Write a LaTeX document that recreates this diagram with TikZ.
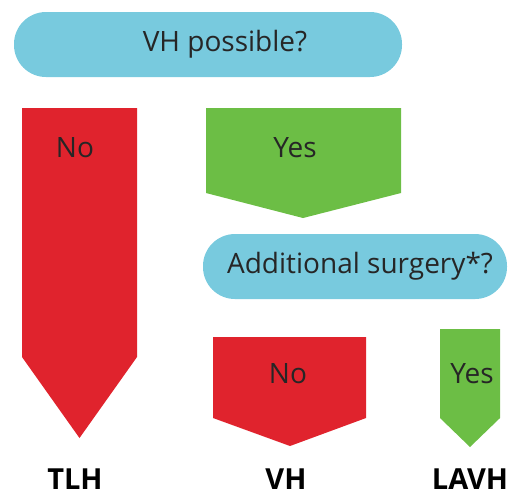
\documentclass[tikz,border=0pt]{standalone}
\usepackage{fontspec}
\setmainfont{Open Sans}
\usepackage{tikz}
\usetikzlibrary{calc}
\definecolor{pillblue}{RGB}{120,202,222}
\definecolor{noRed}{RGB}{224,35,45}
\definecolor{yesGreen}{RGB}{108,190,69}
% pointer shape: colour, left, right, top, shoulder, tip x, tip y
\newcommand{\pointer}[7]{\fill[#1] (#2,#4) -- (#3,#4) -- (#3,#5) -- (#6,#7) -- (#2,#5) -- cycle;}
\tikzset{
    pill/.style={fill=pillblue, rounded corners=16pt, minimum height=32.5pt, inner sep=0pt},
    answer/.style={font=\fontsize{14}{16}\selectfont, text=black!85},
    result/.style={font=\fontsize{14.5}{16}\selectfont\bfseries, text=black}
}

\begin{document}
\begin{tikzpicture}[x=0.5pt, y=-0.5pt]
    \useasboundingbox (0,0) rectangle (513,495);

    % Draw questions
    \node[pill, minimum width=194pt] (q1) at (208,44.5) {};
    \node[answer] (q1text) at (225,44.5) {VH possible?};
    \node[pill, minimum width=152pt] (q2) at (355,266.5) {};
    \node[answer] (q2text) at (360,266.5) {Additional surgery*?};

    % Draw pointers
    \pointer{noRed}{22}{137}{108}{357}{79.5}{438}
    \pointer{yesGreen}{206}{401}{108}{193}{303}{218}
    \pointer{noRed}{213}{366}{337}{418}{290}{446}
    \pointer{yesGreen}{440}{500}{329}{418}{470}{447}

    \node[answer] (no1) at (75,148) {No};
    \node[answer] (yes1) at (295,148) {Yes};
    \node[answer] (no2) at (288,374) {No};
    \node[answer] (yes2) at (472,374) {Yes};

    % Outcomes
    \node[result] (TLH) at (75,479) {TLH};
    \node[result] (VH) at (286,479) {VH};
    \node[result] (LAVH) at (470,479) {LAVH};
\end{tikzpicture}
\end{document}
